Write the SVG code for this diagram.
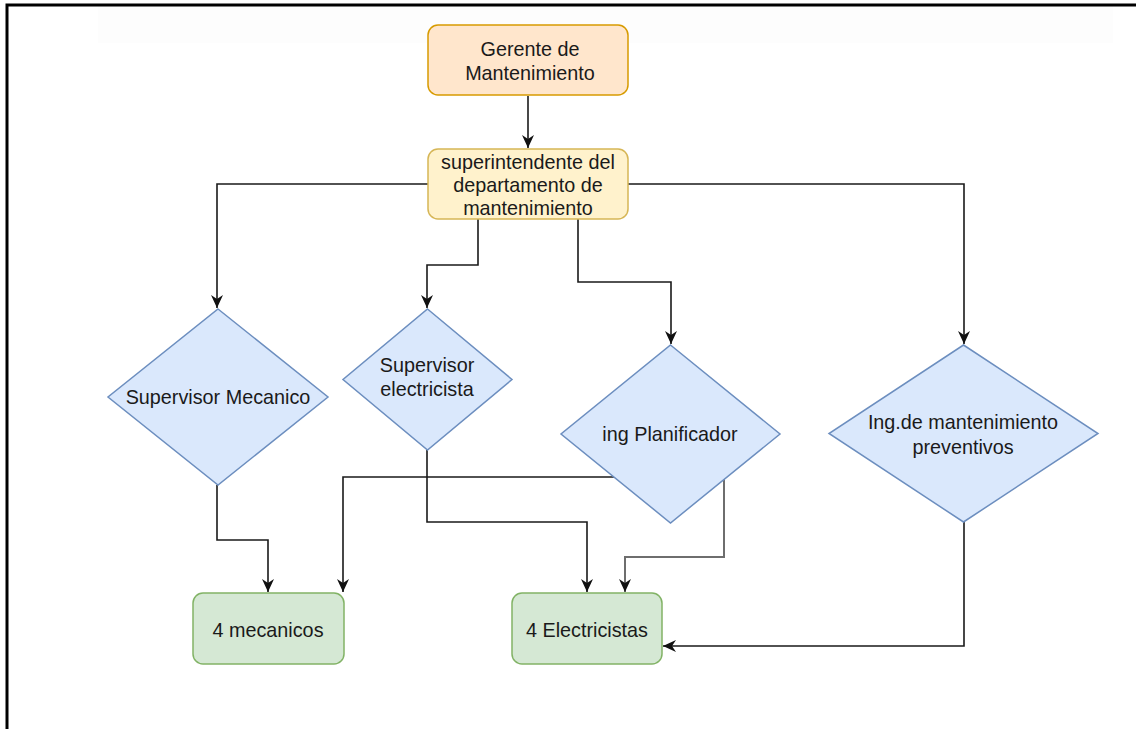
<svg xmlns="http://www.w3.org/2000/svg" width="1136" height="729" viewBox="0 0 1136 729">
<style>
text{font-family:"Liberation Sans",Arial,sans-serif;font-size:19.8px;fill:#1a1a1a;text-anchor:middle;dominant-baseline:central}
.box{stroke-width:1.5}
.orange{fill:#ffe6cc;stroke:#d79b00}
.yellow{fill:#fff2cc;stroke:#d6b656}
.blue{fill:#dae8fc;stroke:#6c8ebf}
.green{fill:#d5e8d4;stroke:#82b366}
.edge{fill:none;stroke:#1a1a1a;stroke-width:1.6;marker-end:url(#arr)}
.grey{stroke:#6e6e6e;stroke-width:2}
</style>
<defs>
<marker id="arr" markerUnits="userSpaceOnUse" markerWidth="14" markerHeight="14" viewBox="0 0 14 14" refX="13" refY="7" orient="auto">
<path d="M0,1 L13,7 L0,13 L4,7 z" fill="#111"/>
</marker>
</defs>
<rect x="0" y="0" width="1136" height="729" fill="#fff"/>
<rect x="98" y="6" width="1015" height="37" fill="#fdfdfd"/>
<path d="M7,740 L7,5 L1145,5" fill="none" stroke="#000" stroke-width="3"/>
<g id="connectors">
<path class="edge" d="M528,96 L528,148"/>
<path class="edge" d="M428,184 L217,184 L217,308"/>
<path class="edge" d="M478,219 L478,265 L427,265 L427,308"/>
<path class="edge" d="M578,219 L578,282 L671,282 L671,344"/>
<path class="edge" d="M628,184 L964,184 L964,344"/>
<path class="edge" d="M217,485 L217,540 L268,540 L268,592"/>
<path class="edge" d="M615,477 L343,477 L343,592"/>
<path class="edge" d="M427,450 L427,522 L587,522 L587,592"/>
<path class="edge grey" d="M724,478 L724,557 L625,557 L625,592"/>
<path class="edge" d="M964,522 L964,646 L663,646"/>
</g>
<g id="gerente">
<rect class="box orange" x="428" y="25" width="200" height="70" rx="10"/>
<text x="530" y="49">Gerente de</text>
<text x="530" y="73">Mantenimiento</text>
</g>
<g id="superintendente">
<rect class="box yellow" x="428" y="149" width="200" height="70" rx="10"/>
<text x="528" y="162">superintendente del</text>
<text x="528" y="185">departamento de</text>
<text x="528" y="208">mantenimiento</text>
</g>
<g id="sup-mecanico">
<polygon class="box blue" points="218,309 328,397 218,485 108,397"/>
<text x="218" y="397">Supervisor Mecanico</text>
</g>
<g id="sup-electricista">
<polygon class="box blue" points="427.5,309 512,379.5 427.5,450 343,379.5"/>
<text x="427" y="365">Supervisor</text>
<text x="427" y="389">electricista</text>
</g>
<g id="ing-planificador">
<polygon class="box blue" points="670.5,345 780,434 670.5,523 561,434"/>
<text x="670" y="434">ing Planificador</text>
</g>
<g id="ing-mantenimiento">
<polygon class="box blue" points="963.5,345 1098,433.5 963.5,522 829,433.5"/>
<text x="963" y="422">Ing.de mantenimiento</text>
<text x="963" y="447">preventivos</text>
</g>
<g id="mecanicos">
<rect class="box green" x="193" y="593" width="151" height="71" rx="10"/>
<text x="268" y="630">4 mecanicos</text>
</g>
<g id="electricistas">
<rect class="box green" x="512" y="593" width="150" height="71" rx="10"/>
<text x="587" y="630">4 Electricistas</text>
</g>
</svg>
